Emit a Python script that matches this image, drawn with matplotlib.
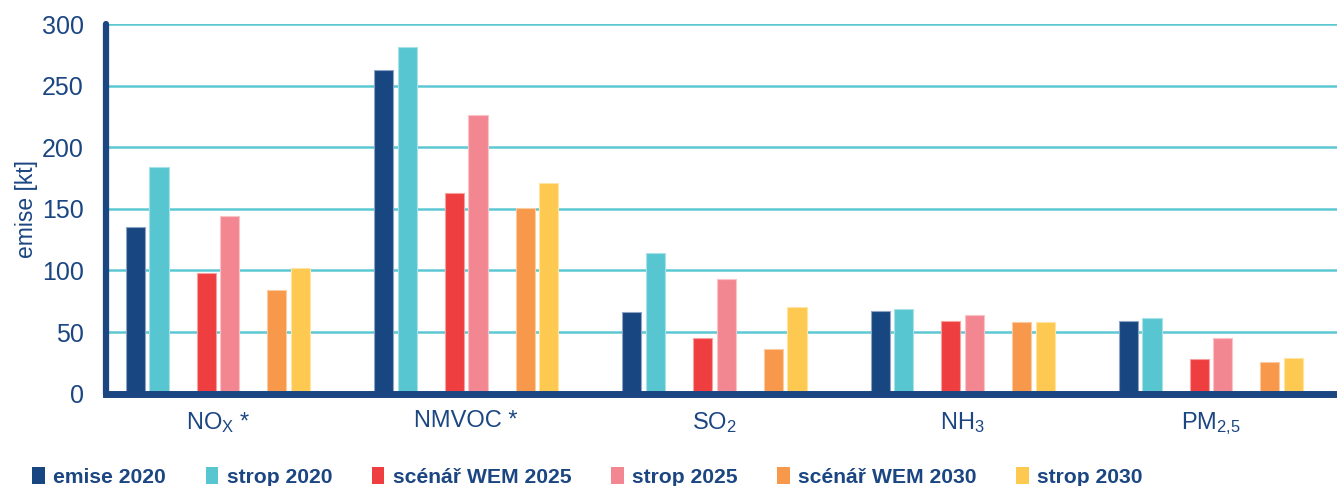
import matplotlib
matplotlib.use("Agg")
import matplotlib.pyplot as plt
import numpy as np
from matplotlib.patches import Patch

plt.rcParams['font.family'] = ['Liberation Sans', 'DejaVu Sans']
plt.rcParams['mathtext.default'] = 'regular'

# Pollutants and emission series (kt)
pollutants = ['NO$_{X}$ *', 'NMVOC *', 'SO$_{2}$', 'NH$_{3}$', 'PM$_{2{,}5}$']
series_names = ['emise 2020', 'strop 2020', 'scénář WEM 2025',
                'strop 2025', 'scénář WEM 2030', 'strop 2030']
emise_2020 = [135, 263, 66, 67, 59]
strop_2020 = [184, 281, 114, 69, 61]
wem_2025 = [98, 163, 45, 59, 28]
strop_2025 = [144, 226, 93, 64, 45]
wem_2030 = [84, 151, 36, 58, 26]
strop_2030 = [102, 171, 70, 58, 29]
yticks = [0, 50, 100, 150, 200, 250, 300]

series = [emise_2020, strop_2020, wem_2025, strop_2025, wem_2030, strop_2030]
colors = ['#184680', '#57C6D0', '#EF3E3F', '#F38791', '#F7984A', '#FEC950']
edge = ['#8FA4C4', '#A8E2E8', '#F7A0A0', '#FAC3C8', '#FBCBA3', '#FFE4A6']
navy = '#1B4682'

fig = plt.figure(figsize=(13.37, 4.86), dpi=100)
ax = fig.add_axes([0.0793, 0.19, 0.9207, 0.7606])

x = np.arange(len(pollutants))
slot = 0.095
offsets = np.array([-3.5, -2.5, -0.5, 0.5, 2.5, 3.5]) * slot
bw = 0.077
for vals, off, c, ec, name in zip(series, offsets, colors, edge, series_names):
    ax.bar(x + off, vals, width=bw, color=c, edgecolor=ec, linewidth=0.8,
           label=name, zorder=3)

ax.set_xlim(-0.451, 4.508)
ax.set_ylim(0, 300)
ax.set_yticks(yticks)
ax.set_xticks(x)
ax.set_xticklabels(pollutants)
ax.grid(axis='y', color='#5CC8D2', linewidth=1.8, zorder=0)
ax.set_axisbelow(True)

for s in ['top', 'right']:
    ax.spines[s].set_visible(False)
ax.spines['left'].set_color(navy)
ax.spines['left'].set_linewidth(4.5)
ax.spines['left'].set_capstyle('round')
ax.spines['bottom'].set_color(navy)
ax.spines['bottom'].set_linewidth(5)
ax.spines['bottom'].set_zorder(4)

ax.tick_params(axis='y', length=0, pad=16, labelsize=18, labelcolor=navy)
ax.tick_params(axis='x', length=0, pad=12, labelsize=17, labelcolor=navy)
ax.set_ylabel('emise [kt]', fontsize=16.5, color=navy)
ax.yaxis.set_label_coords(-0.055, 0.5)

handles = [Patch(facecolor=c, edgecolor='none') for c in colors]
leg = fig.legend(handles, series_names, loc='center left',
                 bbox_to_anchor=(0.010, 0.018), ncol=6, frameon=False,
                 handlelength=0.6, handleheight=0.85, handletextpad=0.4,
                 columnspacing=1.87, prop={'weight': 'bold', 'size': 15.2})
for t in leg.get_texts():
    t.set_color(navy)

fig.savefig('out.png', dpi=100)
